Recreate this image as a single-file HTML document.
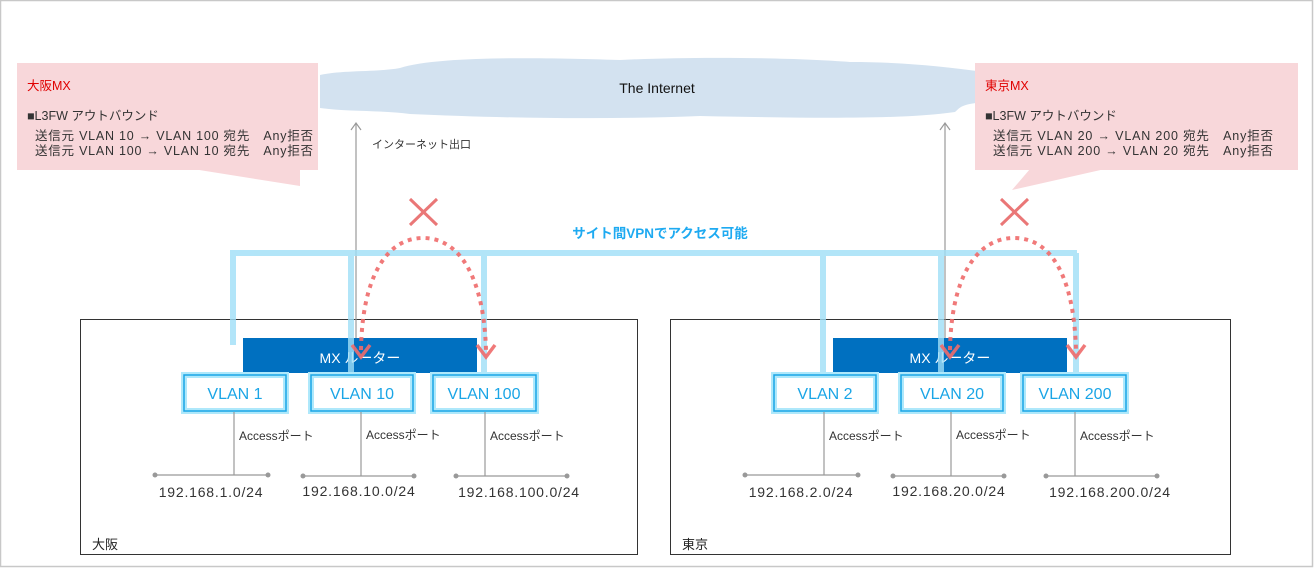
<!DOCTYPE html>
<html><head><meta charset="utf-8"><style>
html,body{margin:0;padding:0;background:#fff}
svg{display:block}
text{font-family:"Liberation Sans","Noto Sans CJK JP",sans-serif}
</style></head><body>
<svg width="1314" height="568" viewBox="0 0 1314 568" xmlns="http://www.w3.org/2000/svg">
<rect x="0.5" y="0.5" width="1312" height="566" fill="#fff" stroke="#c8c8c8" stroke-width="1.5"/>
<path d="M320 75 C340 70,380 72,400 68 C440 55,560 58,620 60 C700 56,800 58,850 62 C900 62,940 66,985 72 L985 102 C960 104,960 108,955 112 C900 120,800 118,700 116 C600 120,500 118,410 114 C380 110,350 112,320 108 Z" fill="#d3e2f0"/>
<text x="657" y="93" font-size="14" text-anchor="middle" fill="#111">The Internet</text>
<rect x="17" y="63" width="301" height="107" fill="#f8d7da"/>
<polygon points="193,169 300,169 300,186" fill="#f8d7da"/>
<text x="27" y="90" font-size="12.5" fill="#e00000">大阪MX</text>
<text x="27" y="120" font-size="12.5" fill="#333">■L3FW アウトバウンド</text>
<text x="35" y="140" font-size="12.5" fill="#333" textLength="278">送信元 VLAN 10 → VLAN 100 宛先　Any拒否</text>
<text x="35" y="155" font-size="12.5" fill="#333" textLength="278">送信元 VLAN 100 → VLAN 10 宛先　Any拒否</text>
<rect x="975" y="63" width="323" height="107" fill="#f8d7da"/>
<polygon points="1030,169 1105,169 1012,190" fill="#f8d7da"/>
<text x="985" y="90" font-size="12.5" fill="#e00000">東京MX</text>
<text x="985" y="120" font-size="12.5" fill="#333">■L3FW アウトバウンド</text>
<text x="993" y="140" font-size="12.5" fill="#333" textLength="280">送信元 VLAN 20 → VLAN 200 宛先　Any拒否</text>
<text x="993" y="155" font-size="12.5" fill="#333" textLength="280">送信元 VLAN 200 → VLAN 20 宛先　Any拒否</text>
<rect x="80.5" y="319.5" width="557" height="235" fill="none" stroke="#333" stroke-width="1"/>
<rect x="670.5" y="319.5" width="560" height="235" fill="none" stroke="#333" stroke-width="1"/>
<text x="92" y="549" font-size="13" fill="#222">大阪</text>
<text x="682" y="549" font-size="13" fill="#222">東京</text>
<g stroke="#999" stroke-width="1.2" fill="none">
<line x1="356" y1="123" x2="356" y2="340"/><polyline points="351,130 356,123 361,130"/>
<line x1="945" y1="123" x2="945" y2="340"/><polyline points="940,130 945,123 950,130"/>
</g>
<text x="372" y="148" font-size="11" fill="#333">インターネット出口</text>
<rect x="243" y="338" width="234" height="35" fill="#0070c0"/>
<rect x="833" y="338" width="234" height="35" fill="#0070c0"/>
<text x="360" y="363" font-size="14" fill="#fff" text-anchor="middle">MX ルーター</text>
<text x="950" y="363" font-size="14" fill="#fff" text-anchor="middle">MX ルーター</text>
<g stroke="#9fdff7" stroke-width="6" fill="none" opacity="0.8">
<polyline points="233,345 233,253 1077,253"/>
<line x1="351" y1="253" x2="351" y2="375"/>
<line x1="484" y1="253" x2="484" y2="375"/>
<line x1="823" y1="253" x2="823" y2="375"/>
<line x1="941" y1="253" x2="941" y2="375"/>
<line x1="1076" y1="253" x2="1076" y2="375"/>
</g>
<text x="660" y="238" font-size="13.5" font-weight="bold" fill="#1eaaf1" text-anchor="middle">サイト間VPNでアクセス可能</text>
<g fill="#fff" stroke="#aee8fb" stroke-width="6">
<rect x="184" y="375" width="102" height="36"/><rect x="311" y="375" width="102" height="36"/><rect x="433" y="375" width="103" height="36"/>
<rect x="774" y="375" width="102" height="36"/><rect x="901" y="375" width="102" height="36"/><rect x="1023" y="375" width="103" height="36"/>
</g>
<g fill="none" stroke="#1aa5e6" stroke-width="1.5">
<rect x="184" y="375" width="102" height="36"/><rect x="311" y="375" width="102" height="36"/><rect x="433" y="375" width="103" height="36"/>
<rect x="774" y="375" width="102" height="36"/><rect x="901" y="375" width="102" height="36"/><rect x="1023" y="375" width="103" height="36"/>
</g>
<g font-size="16" fill="#1aa5e6" text-anchor="middle">
<text x="235" y="399">VLAN 1</text><text x="362" y="399">VLAN 10</text><text x="484" y="399">VLAN 100</text>
<text x="825" y="399">VLAN 2</text><text x="952" y="399">VLAN 20</text><text x="1075" y="399">VLAN 200</text>
</g>
<g stroke="#999" stroke-width="1.2">
<line x1="234" y1="412" x2="234" y2="475"/><line x1="155" y1="475" x2="268" y2="475"/>
<line x1="361" y1="412" x2="361" y2="476"/><line x1="303" y1="476" x2="414" y2="476"/>
<line x1="485" y1="412" x2="485" y2="476"/><line x1="456" y1="476" x2="567" y2="476"/>
<line x1="824" y1="412" x2="824" y2="475"/><line x1="745" y1="475" x2="858" y2="475"/>
<line x1="951" y1="412" x2="951" y2="476"/><line x1="893" y1="476" x2="1004" y2="476"/>
<line x1="1075" y1="412" x2="1075" y2="476"/><line x1="1046" y1="476" x2="1157" y2="476"/>
</g>
<g fill="#999">
<circle cx="155" cy="475" r="2.5"/><circle cx="268" cy="475" r="2.5"/><circle cx="303" cy="476" r="2.5"/><circle cx="414" cy="476" r="2.5"/><circle cx="456" cy="476" r="2.5"/><circle cx="567" cy="476" r="2.5"/>
<circle cx="745" cy="475" r="2.5"/><circle cx="858" cy="475" r="2.5"/><circle cx="893" cy="476" r="2.5"/><circle cx="1004" cy="476" r="2.5"/><circle cx="1046" cy="476" r="2.5"/><circle cx="1157" cy="476" r="2.5"/>
</g>
<g font-size="12" fill="#333">
<text x="239" y="440">Accessポート</text><text x="366" y="439">Accessポート</text><text x="490" y="440">Accessポート</text>
<text x="829" y="440">Accessポート</text><text x="956" y="439">Accessポート</text><text x="1080" y="440">Accessポート</text>
</g>
<g font-size="14" fill="#333" text-anchor="middle" letter-spacing="0.8">
<text x="211" y="497">192.168.1.0/24</text><text x="359" y="496">192.168.10.0/24</text><text x="519" y="497">192.168.100.0/24</text>
<text x="801" y="497">192.168.2.0/24</text><text x="949" y="496">192.168.20.0/24</text><text x="1110" y="497">192.168.200.0/24</text>
</g>
<g stroke="#ef6b6b" stroke-width="4" fill="none" opacity="0.9">
<path d="M361 350 C362 280,385 238,423 238 C461 238,484 280,486 350" stroke-dasharray="4 5"/>
<polyline points="352,345 361,357 370,345" stroke-width="3.5"/>
<polyline points="477,345 486,357 495,345" stroke-width="3.5"/>
<path d="M950 350 C951 280,975 238,1014 238 C1053 238,1074 280,1076 350" stroke-dasharray="4 5"/>
<polyline points="941,345 950,357 959,345" stroke-width="3.5"/>
<polyline points="1067,345 1076,357 1085,345" stroke-width="3.5"/>
</g>
<g stroke="#ea7777" stroke-width="3">
<line x1="410" y1="199" x2="437" y2="225"/><line x1="437" y1="199" x2="410" y2="225"/>
<line x1="1001" y1="199" x2="1028" y2="225"/><line x1="1028" y1="199" x2="1001" y2="225"/>
</g>
</svg>
</body></html>
